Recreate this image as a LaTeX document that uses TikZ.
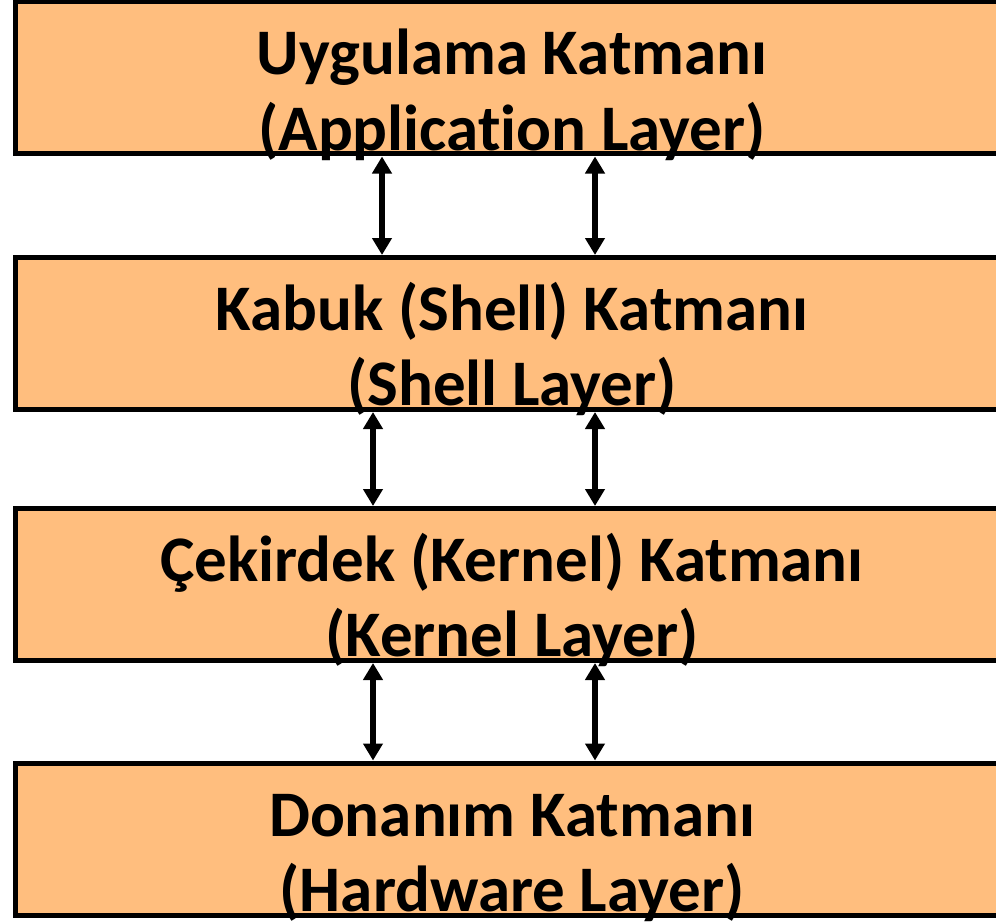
\documentclass[tikz,border=0pt]{standalone}
\usepackage{fontspec}
\setmainfont{Carlito}[Ligatures=NoCommon]
\usetikzlibrary{arrows.meta}
\definecolor{layerfill}{RGB}{255,190,126}
\tikzset{
  layerbox/.style={draw=black, line width=5pt, fill=layerfill, minimum width=994pt, minimum height=152pt, inner sep=0pt},
  layertext/.style={anchor=base, inner sep=0pt, font=\fontsize{65}{75}\selectfont\bfseries},
  biarrow/.style={line width=6.5pt, {Triangle[width=19pt,length=17pt]}-{Triangle[width=19pt,length=17pt]}}
}
\begin{document}
\begin{tikzpicture}[x=1pt,y=-1pt]
\useasboundingbox (0,0) rectangle (996,923);
\clip (0,0) rectangle (996,923);
\node[layerbox] (b1) at (512.5,78) {};
\node[layerbox] (b2) at (512.5,333.5) {};
\node[layerbox] (b3) at (512.5,584.5) {};
\node[layerbox] (b4) at (512.5,839) {};
\node[layertext] (t1a) at (512,75) {Uygulama Katmanı};
\node[layertext] (t1b) at (512,150) {(Application Layer)};
\node[layertext] (t2a) at (512,330) {Kabuk (Shell) Katmanı};
\node[layertext] (t2b) at (512,405) {(Shell Layer)};
\node[layertext] (t3a) at (512,581) {Çekirdek (Kernel) Katmanı};
\node[layertext] (t3b) at (512,656) {(Kernel Layer)};
\node[layertext] (t4a) at (512,836) {Donanım Katmanı};
\node[layertext] (t4b) at (512,911) {(Hardware Layer)};
\draw[biarrow] (b1.south -| 382,0) -- (b2.north -| 382,0);
\draw[biarrow] (b1.south -| 595,0) -- (b2.north -| 595,0);
\draw[biarrow] (b2.south -| 373,0) -- (b3.north -| 373,0);
\draw[biarrow] (b2.south -| 595,0) -- (b3.north -| 595,0);
\draw[biarrow] (b3.south -| 373,0) -- (b4.north -| 373,0);
\draw[biarrow] (b3.south -| 595,0) -- (b4.north -| 595,0);
\end{tikzpicture}
\end{document}
